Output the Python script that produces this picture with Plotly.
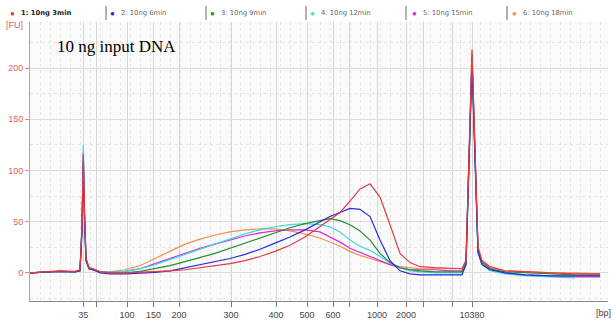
import plotly.graph_objects as go

# Migration time (s) sample points shared by all runs
time_s = [20, 23, 26, 29, 30, 30.4, 30.66, 30.9, 31.2, 31.8, 32.6, 34, 36, 39, 42, 45, 48, 51,
          54, 57, 60, 63, 66, 69, 72, 75, 78, 80, 82, 84, 86, 88, 90, 92, 94, 96, 98, 101, 104,
          106.4, 107.2, 107.8, 108.4, 109, 109.6, 110.4, 112, 115, 119, 124, 129, 134]

fu_3min = [0, 1, 2, 1.5, 3, 45, 116, 60, 14, 5, 4, 1, 0, 0, 0.5, 1, 2, 3, 5, 7, 9, 12, 16, 21, 27,
           35, 45, 52, 59, 70, 82, 87, 74, 47, 19, 10, 6, 5, 4.5, 4, 12, 110, 218, 120, 25, 12, 6,
           2, 1, 0, -1, -1]
fu_6min = [0, 0.5, 1.5, 1, 2, 40, 110, 55, 12, 4, 3, 0, -1, -1, -0.5, 0.5, 2, 5, 8, 11, 14, 18, 23,
           29, 35, 42, 50, 55, 59, 63, 62, 55, 32, 12, 2, -1, -2, -2, -2, -2, 8, 100, 205, 110, 20,
           8, 3, 0, -2, -3, -3, -3]
fu_9min = [0, 0.5, 1.5, 1, 2, 42, 105, 55, 12, 4, 3, 1, 0, 0, 1.5, 4, 7, 11, 15, 19, 24, 29, 34,
           39, 44, 48, 51, 53, 51, 47, 41, 32, 19, 10, 5, 3, 2, 1, 1, 1, 8, 100, 208, 115, 22, 10,
           4, 1, 0, -1, -2, -2]
fu_12min = [0, 0.5, 1.5, 1, 2, 48, 125, 62, 14, 5, 4, 1, 0.5, 1.5, 4, 8, 13, 18, 23, 28, 33, 38,
            42, 45, 47, 48, 47, 45, 40, 32, 26, 22, 16, 10, 5, 2, 1, 0, 0, 0, 8, 100, 210, 115, 20,
            8, 2, -1, -3, -4, -5, None]
fu_15min = [0, 0.5, 1.5, 1, 2, 45, 118, 58, 13, 5, 4, 1, 0.5, 1.5, 4, 9, 14, 19, 24, 28, 32, 36,
            39, 41, 42, 42, 40, 35, 30, 24, 20, 16, 12, 8, 5, 3, 3, 3, 2, 2, 10, 105, 212, 118, 22,
            10, 4, 0, -2, -3, -4, -4]
fu_18min = [0, 0.5, 1.5, 1, 2, 43, 112, 57, 13, 5, 4, 1, 1, 3, 7, 14, 21, 28, 33, 37, 40, 42, 43,
            43, 41, 38, 34, 30, 26, 21, 17, 14, 11, 8, 6, 5, 4, 4, 4, 4, 12, 108, 215, 120, 24, 11,
            5, 2, 1, 0, 0, -1]

series_names = ["1: 10ng 3min", "2: 10ng 6min", "3: 10ng 9min",
                "4: 10ng 12min", "5: 10ng 15min", "6: 10ng 18min"]
series_values = [fu_3min, fu_6min, fu_9min, fu_12min, fu_15min, fu_18min]
series_colors = ["#e8393f", "#2a2ad8", "#20902a", "#3ad8e0", "#d92ad9", "#f0904e"]

# Ladder: bp sizes and their migration times (s)
ladder_bp = [35, 50, 100, 150, 200, 300, 400, 500, 600, 700, 1000, 2000, 3000, 7000, 10380]
ladder_time = [30.66, 33.2, 39.4, 44.7, 49.8, 60.2, 69.2, 75.4, 80.6, 83.8, 89.4, 95.2, 98.6,
               104.4, 108.4]
labeled_bp = [35, 100, 150, 200, 300, 400, 500, 600, 1000, 2000, 10380]

fu_ticks = [0, 50, 100, 150, 200]

fig = go.Figure()
for name, vals, col in reversed(list(zip(series_names, series_values, series_colors))):
    fig.add_trace(go.Scatter(x=time_s, y=vals, mode="lines", name=name,
                             line=dict(color=col, width=1.2), showlegend=False))

ticktext = [str(b) if b in labeled_bp else "" for b in ladder_bp]

fig.update_layout(
    width=613, height=325,
    margin=dict(l=30, r=5, t=22, b=24),
    paper_bgcolor="white", plot_bgcolor="#fafafa",
    font=dict(family="Liberation Sans", size=9, color="#444"),
    xaxis=dict(range=[20, 135.6], tickmode="array", tickvals=ladder_time, ticktext=ticktext,
               showgrid=True, gridcolor="#d6d6d6", gridwidth=1,
               ticks="outside", ticklen=5, tickcolor="#777",
               showline=True, linecolor="#888", linewidth=1, zeroline=False,
               tickfont=dict(size=9, color="#444"),
               minor=dict(dtick=2, showgrid=True, gridcolor="#e6e6e6", griddash="dot")),
    yaxis=dict(range=[-27.5, 245], tickmode="array", tickvals=fu_ticks,
               showgrid=True, gridcolor="#dcdcdc", gridwidth=1,
               ticks="outside", ticklen=4, tickcolor="#f08080",
               showline=True, linecolor="#f08a8a", linewidth=1, zeroline=False,
               tickfont=dict(size=9, color="#e06060"),
               minor=dict(dtick=25, showgrid=True, gridcolor="#e6e6e6", griddash="dot")),
)

# Legend strip at top
plot_w = 613 - 30 - 5
plot_h = 325 - 22 - 24
def px_x(px):
    return (px - 30) / plot_w
def px_y(py):
    return (325 - 24 - py) / plot_h

dot_px = [12, 112, 212, 312, 414, 514]
sep_px = [106, 206, 306, 406, 507]
for i, (name, col) in enumerate(zip(series_names, series_colors)):
    fig.add_annotation(xref="paper", yref="paper", x=px_x(dot_px[i]), y=px_y(13),
                       text="●", showarrow=False, xanchor="center", yanchor="middle",
                       font=dict(size=8, color=col))
    fig.add_annotation(xref="paper", yref="paper", x=px_x(dot_px[i] + 7), y=px_y(13),
                       text=("<b>%s</b>" % name) if i == 0 else name, showarrow=False,
                       xanchor="left", yanchor="middle",
                       font=dict(size=6.8, color="#222" if i == 0 else "#666",
                                 family="DejaVu Sans"))
for s in sep_px:
    fig.add_shape(type="line", xref="paper", yref="paper", x0=px_x(s), x1=px_x(s),
                  y0=px_y(6), y1=px_y(20), line=dict(color="#999", width=1.5))

fig.add_annotation(xref="paper", yref="paper", x=px_x(14), y=px_y(25), text="[FU]",
                   showarrow=False, xanchor="center", yanchor="middle",
                   font=dict(size=9, color="#e06060"))
fig.add_annotation(xref="paper", yref="paper", x=px_x(603), y=px_y(313), text="[bp]",
                   showarrow=False, xanchor="center", yanchor="middle",
                   font=dict(size=9, color="#444"))
fig.add_annotation(xref="paper", yref="paper", x=px_x(55), y=px_y(47),
                   text="10 ng input DNA", showarrow=False, xanchor="left", yanchor="middle",
                   font=dict(size=17, color="black", family="Liberation Serif"))

fig.write_html("out.html")
